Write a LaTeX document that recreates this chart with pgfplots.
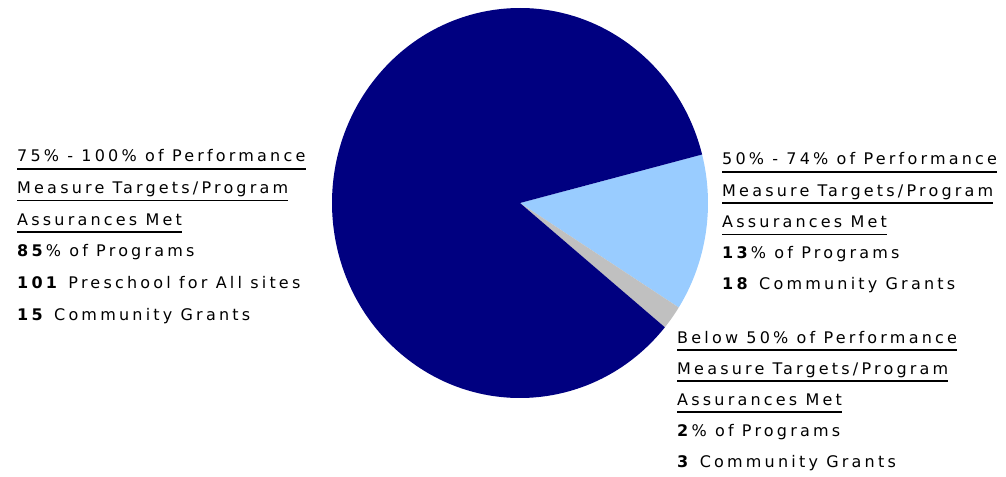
\documentclass[border=0pt]{standalone}
\usepackage{pgfplots}
\pgfplotsset{compat=1.18}
\usepackage{pgfplotstable}
\usepackage{fontspec}
\setmainfont{DejaVu Sans}[LetterSpace=20]

\definecolor{navy}{HTML}{000080}
\definecolor{sky}{HTML}{99CCFF}
\definecolor{silver}{HTML}{C0C0C0}

% shares in percent, clockwise from the first slice
\pgfplotstableread{
share
13
2
85
}\piedata

\newcommand{\fs}{\fontsize{16bp}{19bp}\selectfont}

\begin{document}
\begin{tikzpicture}
\pgfplotstablegetelem{0}{share}\of\piedata \let\sA=\pgfplotsretval
\pgfplotstablegetelem{1}{share}\of\piedata \let\sB=\pgfplotsretval
\pgfplotstablegetelem{2}{share}\of\piedata \let\sC=\pgfplotsretval
\pgfmathsetmacro\aA{14.4}
\pgfmathsetmacro\aB{\aA-3.6*\sA}
\pgfmathsetmacro\aC{\aB-3.6*\sB}
\pgfmathsetmacro\aD{\aC-3.6*\sC}
\begin{axis}[
    scale only axis,
    width=1006bp, height=476bp,
    xmin=0, xmax=1006, ymin=0, ymax=476,
    hide axis,
    clip=false,
]
    \coordinate (bl) at (axis cs:0,0);
    \coordinate (tr) at (axis cs:1006,476);
    \fill[sky] (axis cs:520,273) -- ++(\aA:188bp and 195bp)
        arc[start angle=\aA, end angle=\aB, x radius=188bp, y radius=195bp] -- cycle;
    \fill[silver] (axis cs:520,273) -- ++(\aB:188bp and 195bp)
        arc[start angle=\aB, end angle=\aC, x radius=188bp, y radius=195bp] -- cycle;
    \fill[navy] (axis cs:520,273) -- ++(\aC:188bp and 195bp)
        arc[start angle=\aC, end angle=\aD, x radius=188bp, y radius=195bp] -- cycle;

    \begin{scope}[every node/.style={anchor=base west, inner sep=0pt, font=\fs}]
    \node (l1) at (axis cs:17,314) {75\% - 100\% of Performance};
    \node (l2) at (axis cs:17,282.4) {Measure Targets/Program};
    \node (l3) at (axis cs:17,250.8) {Assurances Met};
    \node at (axis cs:17,219.2) {\textbf{85}\% of Programs};
    \node at (axis cs:17,187.6) {\textbf{101} Preschool for All sites};
    \node at (axis cs:17,156) {\textbf{15} Community Grants};

    \node (r1) at (axis cs:722,311) {50\% - 74\% of Performance};
    \node (r2) at (axis cs:722,279.75) {Measure Targets/Program};
    \node (r3) at (axis cs:722,248.5) {Assurances Met};
    \node at (axis cs:722,217.25) {\textbf{13}\% of Programs};
    \node at (axis cs:722,186) {\textbf{18} Community Grants};

    \node (b1) at (axis cs:677,133) {Below 50\% of Performance};
    \node (b2) at (axis cs:677,102) {Measure Targets/Program};
    \node (b3) at (axis cs:677,71) {Assurances Met};
    \node at (axis cs:677,40) {\textbf{2}\% of Programs};
    \node at (axis cs:677,9) {\textbf{3} Community Grants};
    \end{scope}
    \pgfplotsinvokeforeach{l1,l2,l3,r1,r2,r3,b1,b2,b3}{
        \draw[line width=1.5bp] ([yshift=-7bp]#1.base west) -- ([yshift=-7bp]#1.base east);
    }
\end{axis}
\pgfresetboundingbox
\path (bl) rectangle (tr);
\end{tikzpicture}
\end{document}
